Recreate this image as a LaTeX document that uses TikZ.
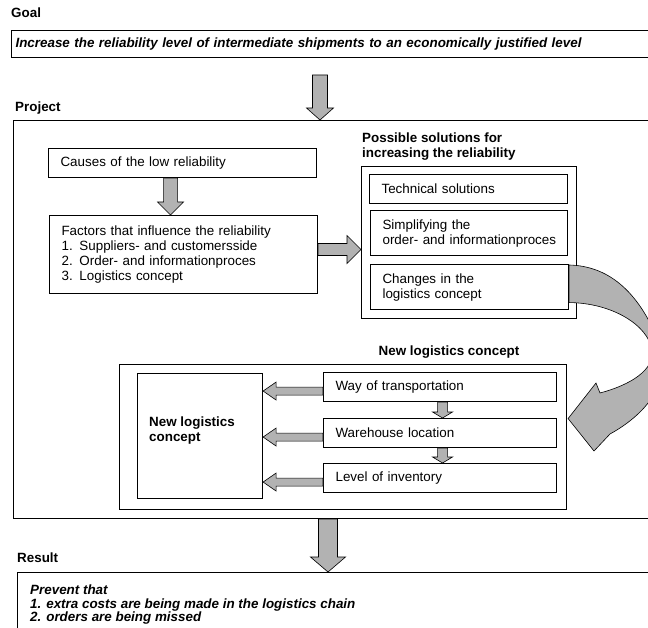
\documentclass[tikz,border=0pt]{standalone}
\usepackage{fontspec}
\setmainfont{Liberation Sans}
\usetikzlibrary{calc}
\newcommand{\blockarrow}[5]{%
  \coordinate (bah) at ($(#2)!#5!(#1)$);
  \filldraw[arrowstyle] ($(#1)!#3!90:(#2)$) -- ($(bah)!#3!90:(#2)$) -- ($(bah)!#4!90:(#2)$) -- (#2) -- ($(bah)!#4!-90:(#2)$) -- ($(bah)!#3!-90:(#2)$) -- ($(#1)!#3!-90:(#2)$) -- cycle;
}
\begin{document}
\begin{tikzpicture}[x=1pt,y=-1pt,
  font=\fontsize{13.4}{15}\selectfont,
  box/.style={draw, line width=1.1pt, inner sep=0pt},
  tbox/.style={box, align=left, anchor=north west, inner xsep=12pt, inner ysep=0pt},
  arrowstyle/.style={fill=gray!60, draw=black, line width=0.6pt},
  title/.style={font=\fontsize{13.4}{15}\selectfont\bfseries, inner sep=0pt, anchor=west}]
\useasboundingbox (0,0) rectangle (648,628);
\clip (0,0) rectangle (648,628);

% Goal
\node[title] (goallbl) at (11,13) {Goal};
\node[box, anchor=north west, inner xsep=4pt, text width=637pt, minimum height=27pt, align=left,
      font=\fontsize{13.4}{15}\selectfont\bfseries\itshape] (goal) at (11,30)
  {Increase the reliability level of intermediate shipments to an economically justified level};

% Project
\node[title] (projlbl) at (15,108) {Project};
\node[box, anchor=north west, minimum width=640pt, minimum height=398pt] (project) at (13,120) {};

\coordinate (gtail) at (320,75);
\coordinate (gtip) at (gtail |- project.north);
\blockarrow{gtail}{gtip}{7.5pt}{13.5pt}{12pt}

\node[tbox, text width=244pt, minimum height=29pt] (causes) at (48,148) {Causes of the low reliability};
\node[tbox, text width=244pt, minimum height=78pt] (factors) at (49,215)
  {Factors that influence the reliability\\1. Suppliers- and customersside\\2. Order- and informationproces\\3. Logistics concept};
\coordinate (a1t) at ($(causes.south)+(-12,0)$);
\coordinate (a1h) at (a1t |- factors.north);
\blockarrow{a1t}{a1h}{7pt}{13pt}{13pt}

% Possible solutions
\node[title, align=left, anchor=north west] (soltitle) at (362,133)
  {Possible solutions for\\increasing the reliability};
\node[box, anchor=north west, minimum width=215pt, minimum height=152pt] (sol) at (361,166) {};
\node[tbox, text width=174pt, minimum height=29pt] (tech) at (369,174) {Technical solutions};
\node[tbox, text width=173pt, minimum height=45pt] (simp) at (370,210) {Simplifying the\\\mbox{order- and informationproces}};
\node[tbox, text width=174pt, minimum height=45pt] (chg) at (370,264) {Changes in the\\logistics concept};
\coordinate (a2t) at ($(factors.east)+(0,-5)$);
\coordinate (a2h) at (a2t -| sol.west);
\blockarrow{a2t}{a2h}{6pt}{14pt}{14pt}

% New logistics concept
\node[title, anchor=center] (nlctitle) at (449,352) {New logistics concept};
\node[box, anchor=north west, minimum width=447pt, minimum height=145pt] (nlcout) at (119,364) {};
\node[box, anchor=north west, minimum width=125pt, minimum height=125pt] (nlcin) at (137,373) {};
\node[title, align=left, anchor=north west] (nlctext) at (149,417) {New logistics\\concept};
\node[tbox, text width=209pt, minimum height=29pt] (way) at (323,372) {Way of transportation};
\node[tbox, text width=209pt, minimum height=29pt] (ware) at (323,418) {Warehouse location};
\node[tbox, text width=209pt, minimum height=29pt] (lev) at (323,463) {Level of inventory};

\foreach \b/\n in {way/1, ware/2, lev/3}{
  \coordinate (l\n t) at ($(\b.west)+(0,4)$);
  \coordinate (l\n h) at (l\n t -| nlcin.east);
  \blockarrow{l\n t}{l\n h}{4pt}{9pt}{13pt}
}
\coordinate (d1t) at ($(way.south)+(2.5,0)$);
\coordinate (d1h) at (d1t |- ware.north);
\blockarrow{d1t}{d1h}{5pt}{10pt}{6pt}
\coordinate (d2t) at ($(ware.south)+(2.5,0)$);
\coordinate (d2h) at (d2t |- lev.north);
\blockarrow{d2t}{d2h}{5pt}{10pt}{6pt}

% curved arrow
\coordinate (cs1) at (chg.north east);
\coordinate (cs2) at ($(chg.east)+(0,15.5)$);
\coordinate (ctip) at ($(nlcout.east)+(1,-18.5)$);
\filldraw[arrowstyle] ($(cs1)+(0,1)$) .. controls (612,266) and (641,296) .. (660,345)
  .. controls (672,378) and (650,412) .. (610,434) -- (594,451) -- (ctip) -- (596,383) -- (600,393)
  .. controls (630,385) and (655,370) .. (652,350)
  .. controls (648,325) and (612,303) .. (cs2) -- cycle;

% Result
\node[title] (reslbl) at (17,558) {Result};
\node[box, anchor=north west, minimum width=640pt, minimum height=80pt] (result) at (17,572) {};
\coordinate (btail) at (328,0);
\coordinate (bt) at (btail |- project.south);
\coordinate (bh) at (btail |- result.north);
\blockarrow{bt}{bh}{9.5pt}{17.5pt}{15pt}
\node[font=\fontsize{13.4}{13.5}\selectfont\bfseries\itshape, align=left, anchor=north west, inner sep=0pt] (restext) at (30,585)
  {Prevent that\\1. extra costs are being made in the logistics chain\\2. orders are being missed};
\end{tikzpicture}
\end{document}
